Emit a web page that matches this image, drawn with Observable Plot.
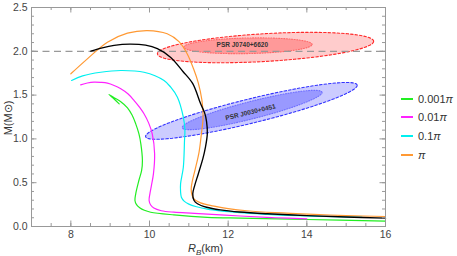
<!DOCTYPE html>
<html><head><meta charset="utf-8">
<script src="https://cdn.jsdelivr.net/npm/d3@7"></script>
<script src="https://cdn.jsdelivr.net/npm/@observablehq/plot@0.6"></script>
<style>
body{margin:0;background:#fff;font-family:"Liberation Sans",Arial,sans-serif;}
#wrap{position:relative;width:457px;height:256px;overflow:hidden;}
.lab{position:absolute;color:#333;font-size:11px;white-space:nowrap;line-height:14px;}
.sw{position:absolute;width:12px;height:1.5px;}
</style></head><body><div id="wrap"></div>
<script>
// ---- data ----
const xMajor = [8, 10, 12, 14, 16];
const yMajor = [0, 0.5, 1.0, 1.5, 2.0, 2.5];
const xMinor = d3.range(7, 16.01, 0.5);
const yMinor = d3.range(0, 2.501, 0.1);

const seriesNames = ["0.001π", "0.01π", "0.1π", "π", "GR"];
const seriesColors = ["#22ee22", "#ff22ff", "#00f0f0", "#ff9933", "#000000"];

const greenR = [9.23, 9.10, 8.97, 9.10, 9.27, 9.44, 9.56, 9.65, 9.73, 9.78, 9.82, 9.80, 9.73, 9.65, 9.63, 9.67, 9.75, 9.87, 10.03, 10.62, 11.47, 12.31, 14.0, 16.0];
const greenM = [1.40, 1.455, 1.507, 1.47, 1.425, 1.355, 1.27, 1.172, 1.06, 0.944, 0.753, 0.64, 0.525, 0.373, 0.297, 0.25, 0.215, 0.185, 0.163, 0.133, 0.105, 0.095, 0.08, 0.062];

const magentaR = [8.25, 8.42, 8.59, 8.76, 8.93, 9.10, 9.27, 9.45, 9.61, 9.75, 9.86, 9.98, 10.07, 10.13, 10.10, 10.05, 10.01, 9.99, 10.03, 10.11, 10.30, 10.62, 11.14, 12.31, 13.2, 14.0];
const magentaM = [1.617, 1.638, 1.648, 1.645, 1.636, 1.61, 1.572, 1.515, 1.438, 1.36, 1.287, 1.18, 1.058, 0.83, 0.60, 0.47, 0.373, 0.297, 0.245, 0.21, 0.18, 0.163, 0.15, 0.12, 0.10, 0.088];

const cyanR = [8.02, 8.30, 8.76, 9.27, 9.86, 10.37, 10.54, 10.71, 10.86, 10.90, 10.89, 10.86, 10.79, 10.79, 10.81, 10.88, 11.0, 11.2, 11.47, 11.8, 12.3, 12.9, 14.0, 15.4];
const cyanM = [1.667, 1.72, 1.761, 1.781, 1.761, 1.667, 1.59, 1.476, 1.248, 1.10, 0.982, 0.677, 0.487, 0.40, 0.334, 0.29, 0.255, 0.225, 0.198, 0.178, 0.158, 0.142, 0.12, 0.106];

const orangeR = [8.0, 8.42, 8.93, 9.44, 9.95, 10.45, 10.75, 10.96, 11.12, 11.24, 11.33, 11.36, 11.36, 11.32, 11.26, 11.16, 11.09, 11.06, 11.08, 11.14, 11.30, 11.6, 12.0, 12.48, 13.2, 14.18, 15.0, 16.0];
const orangeM = [1.743, 1.914, 2.104, 2.207, 2.237, 2.20, 2.11, 1.97, 1.80, 1.64, 1.45, 1.30, 1.22, 1.06, 0.85, 0.65, 0.52, 0.43, 0.36, 0.31, 0.27, 0.235, 0.205, 0.18, 0.158, 0.138, 0.125, 0.114];

const blackR = [8.51, 8.80, 9.10, 9.50, 9.90, 10.20, 10.54, 10.85, 11.10, 11.30, 11.40, 11.45, 11.47, 11.42, 11.36, 11.24, 11.15, 11.10, 11.13, 11.22, 11.45, 11.8, 12.3, 13.0, 14.0, 15.0, 16.0];
const blackM = [2.001, 2.04, 2.068, 2.082, 2.07, 2.03, 1.93, 1.77, 1.63, 1.40, 1.30, 1.20, 1.06, 0.90, 0.78, 0.60, 0.47, 0.375, 0.30, 0.26, 0.22, 0.19, 0.165, 0.145, 0.125, 0.108, 0.095];

// constraint ellipses: centre, semi-axis vectors (R, M)
const ellName = ["J0740 outer", "J0740 inner", "J0030 outer", "J0030 inner"];
const ellCR = [12.95, 12.505, 12.59, 12.61];
const ellCM = [2.043, 2.063, 1.32, 1.33];
const ellAR = [2.75, 1.63, 2.69, 1.777];
const ellAM = [0.072, 0.015, 0.295, 0.203];
const ellBR = [-0.021, 0, -0.073, -0.054];
const ellBM = [0.158, 0.089, 0.135, 0.096];
const ellColor = ["#ff0000", "#ff0000", "#0000ff", "#0000ff"];
const ellStroke = ["#ff2a2a", "#ff6a6a", "#3333ff", "#7070ff"];
const ellDash = ["2.5,2", "1,1.6", "2.5,2", "1,1.6"];
const ellOpacity = [0.2, 0.25, 0.2, 0.25];

const psrLabels = ["PSR J0740+6620", "PSR J0030+0451"];
const psrR = [12.36, 12.57];
const psrM = [2.078, 1.305];
const psrRotate = [0, -13.5];

// ---- build tables ----
const curveR = [greenR, magentaR, cyanR, orangeR, blackR];
const curveM = [greenM, magentaM, cyanM, orangeM, blackM];
const curves = curveR.map((rs, i) => rs.map((r, j) => ({R: r, M: curveM[i][j], s: seriesNames[i]})));

const ellipses = ellName.map((n, k) => d3.range(0, 73).map(i => {
  const t = i / 72 * 2 * Math.PI;
  return {R: ellCR[k] + ellAR[k] * Math.cos(t) + ellBR[k] * Math.sin(t),
          M: ellCM[k] + ellAM[k] * Math.cos(t) + ellBM[k] * Math.sin(t)};
}));

const frameW = 457 - 31 - 72, frameH = 256 - 7 - 30;
const tickCol = "#999";

const marks = [];
ellipses.forEach((pts, k) => {
  marks.push(Plot.line(pts, {x: "R", y: "M", curve: "linear-closed", fill: ellColor[k], fillOpacity: ellOpacity[k],
    stroke: ellStroke[k], strokeWidth: 1.1, strokeDasharray: ellDash[k]}));
});
marks.push(Plot.text(psrLabels, {x: (d, i) => psrR[i], y: (d, i) => psrM[i], text: d => d, rotate: (d, i) => psrRotate[i],
  fontSize: 6.5, fontWeight: "bold", fill: "#333"}));
marks.push(Plot.ruleY([2.0], {stroke: "#999", strokeWidth: 1.3, strokeDasharray: "7,4.5"}));
curves.forEach((c, i) => {
  marks.push(Plot.line(c, {x: "R", y: "M", stroke: seriesColors[i], strokeWidth: i === 4 ? 1.35 : 1.2, curve: "catmull-rom"}));
});
// frame + inward ticks (Mathematica-style)
marks.push(Plot.frame({stroke: tickCol, strokeWidth: 1}));
marks.push(Plot.tickX(xMinor, {x: d => d, insetTop: frameH - 3, stroke: tickCol}));
marks.push(Plot.tickX(xMajor, {x: d => d, insetTop: frameH - 5.5, stroke: tickCol}));
marks.push(Plot.tickX(xMinor, {x: d => d, insetBottom: frameH - 3, stroke: tickCol}));
marks.push(Plot.tickX(xMajor, {x: d => d, insetBottom: frameH - 5.5, stroke: tickCol}));
marks.push(Plot.tickY(yMinor, {y: d => d, insetRight: frameW - 3, stroke: tickCol}));
marks.push(Plot.tickY(yMajor, {y: d => d, insetRight: frameW - 5.5, stroke: tickCol}));
marks.push(Plot.tickY(yMinor, {y: d => d, insetLeft: frameW - 3, stroke: tickCol}));
marks.push(Plot.tickY(yMajor, {y: d => d, insetLeft: frameW - 5.5, stroke: tickCol}));
marks.push(Plot.axisX({ticks: xMajor, tickSize: 0, tickPadding: 4, tickFormat: d => String(d), label: null}));
marks.push(Plot.axisY({ticks: yMajor, tickSize: 0, tickPadding: 4, tickFormat: d3.format(".1f"), label: null}));

const chart = Plot.plot({
  width: 457, height: 256,
  marginLeft: 31, marginRight: 72, marginTop: 7, marginBottom: 30,
  x: {domain: [7, 16]},
  y: {domain: [0, 2.5]},
  style: {fontFamily: "'Liberation Sans', Arial, sans-serif", fontSize: "10.5px", color: "#444", background: "#fff"},
  marks
});
const wrap = document.getElementById("wrap");
wrap.appendChild(chart);

// legend
const legY = [99, 117, 136, 155];
const legHTML = ["0.001<i>π</i>", "0.01<i>π</i>", "0.1<i>π</i>", "<i>π</i>"];
legY.forEach((y, i) => {
  const sw = document.createElement("div");
  sw.className = "sw";
  sw.style.left = "401px"; sw.style.top = (y - 0.75) + "px";
  sw.style.background = seriesColors[i];
  wrap.appendChild(sw);
  const t = document.createElement("div");
  t.className = "lab";
  t.style.left = "418px"; t.style.top = (y - 7.5) + "px";
  t.innerHTML = legHTML[i];
  wrap.appendChild(t);
});
// axis labels
const xl = document.createElement("div");
xl.className = "lab";
xl.innerHTML = "<i>R</i><sub style='font-size:8px;font-style:italic'>B</sub>(km)";
xl.style.left = "188px"; xl.style.top = "241px";
wrap.appendChild(xl);
const yl = document.createElement("div");
yl.className = "lab";
yl.textContent = "M(M⊙)";
yl.style.left = "-12px"; yl.style.top = "111px";
yl.style.transform = "rotate(-90deg)";
yl.style.width = "40px"; yl.style.textAlign = "center";
wrap.appendChild(yl);
</script>
</body></html>
